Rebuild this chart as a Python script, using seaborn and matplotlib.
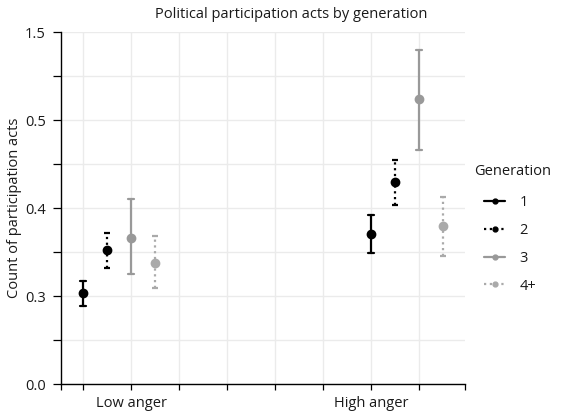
import numpy as np
import pandas as pd
import matplotlib
matplotlib.use("Agg")
import matplotlib.pyplot as plt
import seaborn as sns
from matplotlib.lines import Line2D
from matplotlib.ticker import FixedLocator, FixedFormatter

anger_levels = ["Low anger", "High anger"]
generations = ["1", "2", "3", "4+"]

# mean count of acts and interval bounds, one entry per generation
low_est = [0.303, 0.352, 0.366, 0.337]
low_lo = [0.289, 0.332, 0.325, 0.309]
low_hi = [0.317, 0.372, 0.410, 0.368]
high_est = [0.370, 0.429, 0.5235, 0.379]
high_lo = [0.3485, 0.403, 0.466, 0.346]
high_hi = [0.392, 0.455, 0.580, 0.413]

y_tick_labels = ["0.0", "", "0.3", "", "0.4", "", "0.5", "", "1.5"]

gen_colors = {"1": "#000000", "2": "#000000", "3": "#999999", "4+": "#aaaaaa"}
gen_styles = {"1": "-", "2": (0, (1.0, 1.6)), "3": "-", "4+": (0, (1.0, 1.6))}

rows = []
for anger, est, lo, hi in [("Low anger", low_est, low_lo, low_hi),
                           ("High anger", high_est, high_lo, high_hi)]:
    for g, e, l, h in zip(generations, est, lo, hi):
        for v in (l, e, h):
            rows.append({"anger": anger, "generation": g, "value": v})
df = pd.DataFrame(rows)

sns.set_style("white")
plt.rcParams["font.family"] = ["Open Sans", "DejaVu Sans"]
FS = 10.5
TXT = "#1a1a1a"

fig = plt.figure(figsize=(5.63, 4.18), dpi=100)
ax = fig.add_axes([61 / 563, 1 - 384 / 418, (465 - 61) / 563, (384 - 32) / 418])

sns.pointplot(
    data=df, x="anger", y="value", hue="generation",
    order=anger_levels, hue_order=generations,
    estimator="median", errorbar=lambda v: (v.min(), v.max()),
    dodge=0.25, palette=gen_colors, markers="o", linestyle="none",
    markersize=5, capsize=0.022,
    err_kws={"linewidth": 1.6, "linestyle": "-"},
    legend=False, ax=ax,
)

# dotted interval stems for generations 2 and 4+, caps kept solid
hue_idx = -1
for line in list(ax.lines):
    if line.get_marker() == "o":
        hue_idx += 1
        line.set_zorder(4)
        continue
    line.set_zorder(3)
    g = generations[hue_idx]
    if gen_styles[g] == "-":
        continue
    xd = np.asarray(line.get_xdata(), float)
    yd = np.asarray(line.get_ydata(), float)
    breaks = np.where(np.isnan(xd))[0]
    if len(breaks) != 2:
        line.set_linestyle(gen_styles[g])
        continue
    b0, b1 = breaks
    line.set_data(xd[b0 + 1:b1], yd[b0 + 1:b1])
    line.set_linestyle(gen_styles[g])
    line.set_dash_capstyle("butt")
    for sl in (slice(0, b0), slice(b1 + 1, None)):
        ax.plot(xd[sl], yd[sl], color=line.get_color(), linewidth=1.6,
                solid_capstyle="butt", zorder=3)

ax.set_xlim(-0.2014, 1.2014)
ax.set_ylim(0.2, 0.6)

grid_x = [-0.125 + k / 6 for k in range(8)]
x_labels = ["", "Low anger", "", "", "", "", "High anger", ""]
ax.xaxis.set_major_locator(FixedLocator(grid_x))
ax.xaxis.set_major_formatter(FixedFormatter(x_labels))
ax.xaxis.set_minor_locator(FixedLocator([-0.2014, 1.2014]))

y_ticks = np.linspace(0.2, 0.6, 9)
ax.yaxis.set_major_locator(FixedLocator(y_ticks))
ax.yaxis.set_major_formatter(FixedFormatter(y_tick_labels))

ax.grid(True, which="major", color="#ebebeb", linewidth=1.0)
ax.set_axisbelow(True)
for side in ["top", "right"]:
    ax.spines[side].set_visible(False)
for side in ["left", "bottom"]:
    ax.spines[side].set_color("black")
    ax.spines[side].set_linewidth(1.0)

ax.tick_params(axis="both", which="both", direction="out", width=0.9,
               color="black", labelsize=FS, labelcolor=TXT)
ax.tick_params(axis="x", which="both", length=4.5, pad=4, bottom=True)
ax.tick_params(axis="y", which="both", length=6, pad=5, left=True)

ax.set_xlabel("")
ax.set_ylabel("Count of participation acts", fontsize=FS, color=TXT, labelpad=2)

fig.text(291.5 / 563, 1 - 14 / 418, "Political participation acts by generation",
         ha="center", va="center", fontsize=FS, color=TXT)

fig.text(474 / 563, 1 - 172 / 418, "Generation", ha="left", va="center",
         fontsize=FS, color=TXT)

handles = [
    Line2D([], [], color=gen_colors[g], linestyle=gen_styles[g], linewidth=1.6,
           marker="o", markersize=3.5)
    for g in generations
]
leg = fig.legend(handles, generations,
                 loc="upper left", bbox_to_anchor=(484 / 563, 1 - 195 / 418),
                 frameon=False, fontsize=FS,
                 handlelength=1.45, handletextpad=1.0, labelspacing=0.88,
                 borderaxespad=0, borderpad=0)
for t in leg.get_texts():
    t.set_color(TXT)

fig.savefig("out.png", dpi=100)
